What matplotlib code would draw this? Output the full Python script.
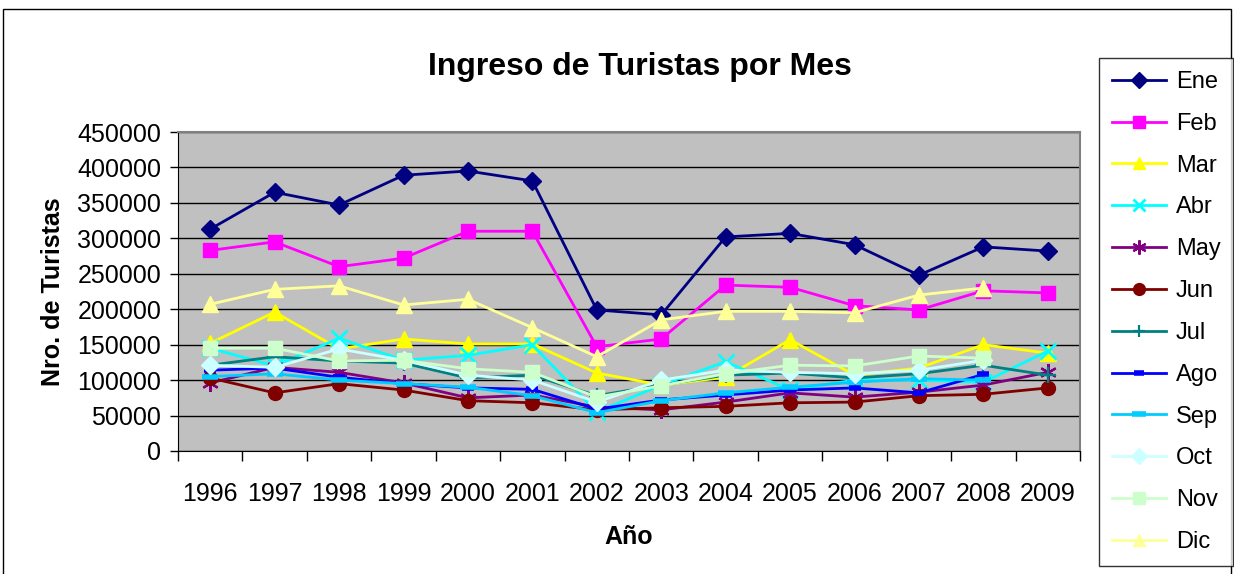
import numpy as np
import matplotlib.pyplot as plt
from matplotlib.patches import Rectangle

plt.rcParams['font.family'] = ['Liberation Sans', 'DejaVu Sans']

years = ['1996', '1997', '1998', '1999', '2000', '2001', '2002',
         '2003', '2004', '2005', '2006', '2007', '2008', '2009']
nan = np.nan

ene = [313000, 365000, 347000, 389000, 395000, 381000, 199000,
       192000, 302000, 307000, 291000, 248000, 288000, 282000]
feb = [283000, 295000, 260000, 272000, 310000, 310000, 147000,
       158000, 234000, 231000, 205000, 199000, 226000, 223000]
mar = [152000, 196000, 144000, 158000, 151000, 151000, 110000,
       93000, 104000, 157000, 107000, 117000, 150000, 138000]
abr = [145000, 120000, 159000, 128000, 135000, 150000, 55000,
       93000, 126000, 86000, 100000, 100000, 97000, 141000]
may = [96000, 118000, 111000, 96000, 75000, 79000, 62000,
       58000, 69000, 82000, 76000, 83000, 93000, 111000]
jun = [103000, 82000, 95000, 86000, 71000, 68000, 58000,
       61000, 63000, 68000, 69000, 78000, 80000, 89000]
jul = [121000, 133000, 127000, 124000, 103000, 107000, 78000,
       93000, 107000, 110000, 103000, 109000, 121000, 107000]
ago = [114000, 117000, 104000, 95000, 89000, 87000, 59000,
       72000, 79000, 86000, 89000, 82000, 108000, nan]
sep = [105000, 109000, 100000, 95000, 90000, 78000, 54000,
       71000, 82000, 90000, 97000, 102000, 100000, nan]
octu = [121000, 118000, 144000, 128000, 107000, 100000, 69000,
        100000, 114000, 111000, 109000, 114000, 128000, nan]
nov = [145000, 145000, 127000, 128000, 116000, 111000, 76000,
       92000, 109000, 121000, 120000, 134000, 131000, nan]
dic = [207000, 228000, 233000, 206000, 214000, 174000, 133000,
       185000, 197000, 197000, 195000, 220000, 230000, nan]

series = [
    ('Ene', ene, '#000080', 'D', 9, {}),
    ('Feb', feb, '#FF00FF', 's', 10, {}),
    ('Mar', mar, '#FFFF00', '^', 11, {}),
    ('Abr', abr, '#00FFFF', 'x', 11, {'markeredgewidth': 2}),
    ('May', may, '#800080', (6, 2, 0), 12, {'markeredgewidth': 1.6}),
    ('Jun', jun, '#800000', 'o', 10, {}),
    ('Jul', jul, '#008080', '+', 11, {'markeredgewidth': 1.6}),
    ('Ago', ago, '#0000FF', '_', 8, {'markeredgewidth': 4}),
    ('Sep', sep, '#00CCFF', '_', 12, {'markeredgewidth': 4}),
    ('Oct', octu, '#CCFFFF', 'D', 9, {}),
    ('Nov', nov, '#CCFFCC', 's', 10, {}),
    ('Dic', dic, '#FFFF99', '^', 11, {}),
]

fig = plt.figure(figsize=(12.34, 5.74), dpi=100)
ax = fig.add_axes([178 / 1234, 1 - 451 / 574, 902 / 1234, 319 / 574])
ax.set_facecolor('#C0C0C0')

x = np.arange(len(years))
for name, vals, col, mk, ms, extra in series:
    ax.plot(x, vals, color=col, marker=mk, markersize=ms, linewidth=2,
            markerfacecolor=col, markeredgecolor=col, label=name, **extra)

ax.set_xlim(-0.5, len(years) - 0.5)
ax.set_ylim(0, 450000)
ax.set_yticks(np.arange(0, 450001, 50000))
ax.yaxis.grid(True, color='black', linewidth=1)
ax.set_axisbelow(True)

ax.set_xticks(np.arange(-0.5, len(years), 1.0))
ax.set_xticklabels([])
ax.set_xticks(x, minor=True)
ax.set_xticklabels(years, minor=True)
ax.tick_params(axis='x', which='major', length=7, width=1, direction='out')
ax.tick_params(axis='x', which='minor', length=0, pad=22, labelsize=18)
ax.tick_params(axis='y', length=6, width=1, labelsize=18, pad=6)

for s in ['top', 'right']:
    ax.spines[s].set_color('#808080')
    ax.spines[s].set_linewidth(1.5)
ax.spines['left'].set_color('black')
ax.spines['bottom'].set_color('black')

ax.set_ylabel('Nro. de Turistas', fontsize=18, fontweight='bold', labelpad=9)
ax.set_xlabel('Año', fontsize=18, fontweight='bold', labelpad=14)
fig.text(640 / 1234, 1 - 67 / 574, 'Ingreso de Turistas por Mes',
         fontsize=23, fontweight='bold', ha='center', va='center')

leg = fig.legend(loc='upper left', bbox_to_anchor=(1099 / 1234, 1 - 58 / 574),
                 fontsize=17, handlelength=2.3, handletextpad=0.4,
                 labelspacing=0.84, borderpad=0.55, frameon=True, fancybox=False,
                 shadow=False, borderaxespad=0, markerscale=0.85)
leg.get_frame().set_edgecolor('black')
leg.get_frame().set_linewidth(1)

fig.patches.append(Rectangle((3 / 1234, -0.05), 1228 / 1234, 1.05 - 9 / 574,
                             transform=fig.transFigure, fill=False,
                             edgecolor='black', linewidth=1))

fig.savefig('out.png', dpi=100)
